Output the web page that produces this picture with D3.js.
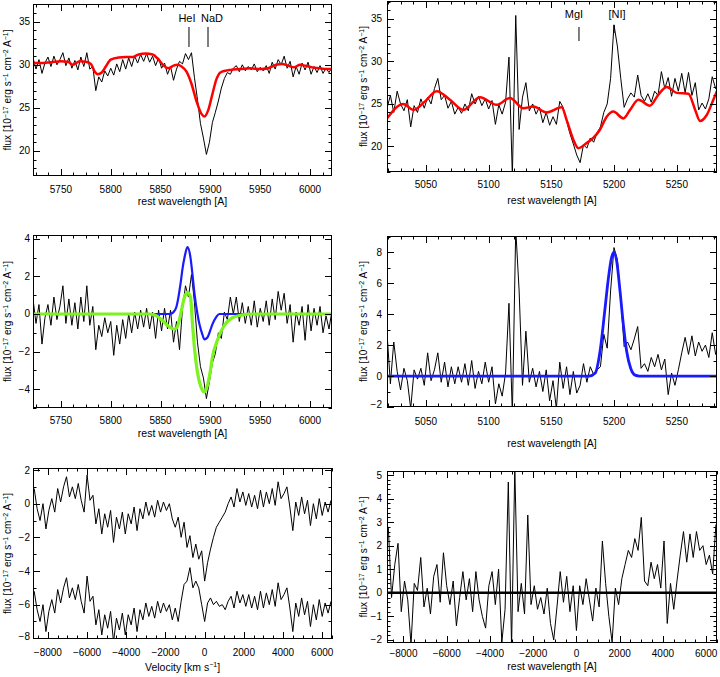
<!DOCTYPE html>
<html><head><meta charset="utf-8">
<script src="https://cdn.jsdelivr.net/npm/d3@7"></script>
<style>
body{margin:0;background:#fff}
svg{display:block;background:#fff}
text{font-family:"Liberation Sans",Arial,Helvetica,sans-serif;font-size:10px;fill:#000}
</style>
</head><body>
<svg id="c" width="720" height="677"></svg>
<script>
// ---------------- DATA ----------------
// Panel 1: NaD region, observed spectrum (3 A sampling from 5722 A) and stellar model (red)
const p1WaveStart = 5722, p1WaveStep = 3;
const p1Flux = [
 30.8,29.5,30.6,29.0,30.2,30.9,29.8,31.0,30.0,30.6,
 31.4,29.9,30.8,29.6,30.5,29.4,30.9,29.8,31.4,29.5,
 29.8,27.0,28.6,28.0,29.3,28.7,29.6,28.8,30.1,29.2,
 30.6,29.5,30.8,29.8,31.0,30.2,31.2,30.4,31.3,30.3,
 31.0,29.9,30.8,29.6,30.2,28.9,29.8,28.2,29.5,30.4,
 30.1,31.3,30.6,31.4,28.5,26.0,23.2,21.5,19.6,21.0,
 23.3,24.5,25.8,27.3,28.4,29.1,28.9,29.6,29.9,29.2,
 30.0,29.3,29.8,29.4,30.1,29.2,29.7,29.3,29.9,29.0,
 30.3,29.5,30.6,30.0,31.0,29.6,30.4,28.6,29.8,28.9,
 30.2,29.4,30.3,28.9,29.8,29.1,29.9,29.0,29.6,29.1,
 29.7];
const p1ModelWave = [5722,5730,5740,5750,5757,5762,5769,5775,5780,5784,5787,5791,5795,5800,5808,5815,5822,5828,5835,5842,5848,5853,5858,5863,5867,5871,5876,5881,5886,5891,5894,5898,5902,5906,5910,5915,5920,5930,5940,5950,5958,5966,5972,5978,5984,5990,5995,6002,6010,6016,6022];
const p1ModelFlux = [30.2,30.2,30.3,30.4,30.35,30.0,30.4,30.35,30.1,29.2,28.9,29.1,29.8,30.6,30.85,30.9,30.9,31.2,31.3,31.2,30.6,29.9,29.6,29.9,30.0,29.8,29.2,27.8,25.8,24.3,24.0,24.8,26.6,28.3,29.1,29.3,29.4,29.5,29.6,29.5,29.6,30.0,30.1,29.9,29.7,30.0,29.9,29.7,29.6,29.5,29.5];
const p1LineNames = ["HeI","NaD"];
const p1LineWaves = [5878.5,5897.6];

// Panel 2: [NI] region, observed spectrum (2.7 A sampling from 5019 A) and stellar model (red)
const p2WaveStart = 5019, p2WaveStep = 2.7;
const p2Flux = [
 24.5,26.0,24.0,26.5,25.0,24.2,25.5,22.3,24.8,24.0,
 25.6,24.5,25.8,25.0,26.8,28.0,25.5,26.0,24.5,25.3,
 23.8,24.6,23.9,25.0,24.2,26.2,25.0,25.9,24.8,25.6,
 24.4,25.4,22.6,24.9,23.8,25.2,30.5,16.5,35.4,22.0,
 25.8,27.5,24.2,25.0,23.8,24.6,22.8,24.0,22.5,23.5,
 22.6,25.3,24.6,23.0,21.5,20.3,19.0,18.1,20.2,19.8,
 21.0,20.5,21.6,22.3,24.0,25.0,28.0,34.3,31.8,28.0,
 24.6,25.6,26.3,25.8,28.4,26.0,25.3,26.2,25.2,26.5,
 26.0,28.8,26.8,28.1,25.9,28.0,26.5,28.6,26.3,28.7,
 26.0,27.5,24.3,25.1,24.4,25.6,28.2,26.8,27.9];
const p2ModelWave = [5019.3,5032.0,5040.0,5049.3,5058.6,5069.2,5079.8,5093.1,5106.4,5117.0,5127.7,5135.6,5146.3,5158.2,5162.2,5167.5,5171.5,5178.1,5183.4,5188.8,5194.1,5199.4,5207.4,5212.7,5219.3,5228.6,5235.3,5241.9,5249.9,5259.2,5264.6,5268.5,5273.8,5279.1,5283.1];
const p2ModelFlux = [23.35,25.0,24.3,25.3,26.5,25.5,24.3,25.8,24.9,25.7,24.5,24.7,24.0,24.6,23.1,20.8,19.8,20.4,21.0,22.0,23.5,24.1,23.3,24.3,25.5,24.8,26.1,27.0,26.3,26.2,24.3,23.0,23.7,25.5,26.9];
const p2LineNames = ["MgI","[NI]"];
const p2LineWaves = [5172,5200];

// Panel 3: residual around NaD, HeI emission fit (blue) and total fit (green)
const p3Flux = [
 0.8,-0.5,0.5,-1.6,-0.2,0.5,-0.6,0.9,-0.3,0.4,
 1.5,-0.5,0.8,-0.6,0.6,-0.8,0.9,-0.4,1.5,-0.6,
 0.4,-1.9,-0.6,-1.2,-0.2,-1.0,-0.4,-2.2,-0.6,-1.6,
 -0.3,-1.3,0.0,-1.0,0.1,-0.8,0.2,-0.7,0.3,-0.8,
 0.1,-1.3,0.2,-0.9,0.3,-0.8,0.2,-1.5,-0.4,-1.9,
 0.3,1.5,0.9,2.1,0.6,-1.5,-2.8,-3.4,-4.5,-3.6,
 -2.6,-2.1,-1.0,-1.3,0.1,-0.3,0.9,0.0,0.9,-0.4,
 0.6,-0.5,0.4,-0.6,0.7,-0.7,0.3,-0.4,0.7,-0.6,
 0.8,-0.3,1.2,0.2,1.1,-0.5,0.5,-1.5,0.1,-0.6,
 0.4,-1.4,0.5,-0.9,0.3,-0.6,0.4,-1.0,-0.1,-0.8,
 0.2];
const p3BlueWave = [5722,5859,5863,5866,5870,5872,5874,5877,5880,5882,5884,5887,5889,5892,5894,5897,5900,5902,5906,5909,6022];
const p3BlueFlux = [0,0,0.1,0.4,1.6,2.4,3.0,3.55,3.0,2.1,1.1,0.0,-0.55,-1.1,-1.35,-1.25,-0.85,-0.55,-0.15,0,0];
const p3GreenWave = [5722,5840,5846,5852,5858,5863,5866,5868,5871,5874,5877,5880,5882,5884,5887,5890,5894,5897,5900,5902,5907,5914,5922,5932,5942,6022];
const p3GreenFlux = [0,0,-0.1,-0.35,-0.65,-0.8,-0.75,-0.5,0.2,0.9,1.15,0.9,-0.5,-1.8,-3.1,-3.8,-4.15,-3.8,-3.0,-2.3,-1.4,-0.6,-0.2,-0.05,0,0];

// Panel 4: residual around [NI] with Gaussian fit (blue)
const p4Flux = [
 2.8,-0.5,2.2,0.3,-0.9,0.5,-0.3,-2.1,0.4,-0.2,
 0.5,-0.6,1.5,-0.3,0.4,1.5,-0.4,0.9,-0.7,0.6,
 -0.5,0.6,-0.4,0.8,-0.6,1.0,-0.8,0.3,-0.5,0.9,
 -0.4,0.6,-1.8,-0.5,-1.3,0.2,4.7,-2.5,9.5,5.5,
 -0.6,2.9,-0.4,0.5,-0.7,0.3,-1.0,0.4,-1.6,-0.3,
 -2.1,0.9,-0.8,0.6,-1.2,0.3,-1.1,-0.6,0.8,-0.4,
 0.6,0.1,0.4,0.6,2.7,1.8,5.5,8.3,7.5,5.0,
 1.9,2.2,1.7,2.4,3.2,0.5,0.8,0.3,1.2,0.6,
 1.4,0.4,1.1,-1.2,0.2,-0.6,0.4,1.5,2.5,1.4,
 2.6,1.3,2.2,1.6,2.0,1.2,2.8,1.4,1.8];
const p4FitWave = [5019,5180,5185,5188.8,5192.8,5195.4,5198.1,5200,5202.1,5204.7,5207.4,5210,5213.2,5216.7,5220,5283];
const p4FitFlux = [0,0,0.2,1.6,4.4,6.3,7.7,8.0,7.4,5.5,3.3,1.6,0.5,0.06,0,0];

// Panel 5: NaD residual in velocity space (top) and after fit subtraction, offset (bottom)
const velStart = -8700, velStep = 150;
const p5Top = [
 0.9,-0.3,-1.0,0.0,-1.5,-0.4,0.3,-0.5,0.9,0.1,
 1.0,1.6,0.4,1.0,0.3,1.2,0.2,-0.5,1.7,0.2,
 0.5,-1.2,-0.3,-1.8,-0.6,-1.4,-0.4,-2.3,-0.8,-1.5,
 -0.5,-1.8,-0.6,-1.2,-0.2,-1.6,-0.3,-0.9,0.1,-0.7,
 -0.1,-0.8,0.2,-0.5,0.1,-0.4,0.0,-0.9,-1.4,-0.8,
 -2.0,-1.1,-2.6,-1.9,-3.2,-2.4,-3.3,-2.8,-4.6,-3.5,
 -2.7,-2.0,-1.4,-1.1,-0.8,-0.5,0.0,0.4,-0.2,0.9,
 0.1,0.7,-0.1,0.6,-0.2,0.5,-0.3,0.8,-0.2,0.7,
 0.0,0.9,-0.1,1.3,0.3,0.6,1.0,-0.2,-1.6,0.1,
 -0.7,0.4,-0.6,0.2,-1.3,0.0,-0.9,0.3,-0.7,0.1,
 -0.5,0.2];
const p5Bottom = [
 -5.2,-6.3,-7.0,-6.0,-7.6,-6.4,-5.7,-6.5,-5.1,-5.9,
 -5.0,-4.4,-5.6,-5.0,-5.7,-4.8,-5.8,-6.5,-4.3,-5.8,
 -5.5,-7.2,-6.3,-7.8,-6.6,-7.4,-6.4,-8.2,-6.8,-7.5,
 -6.5,-7.8,-6.6,-7.2,-6.2,-7.6,-6.3,-6.9,-5.9,-6.7,
 -6.1,-6.8,-5.8,-6.5,-5.9,-6.4,-6.0,-6.9,-6.2,-7.0,
 -5.8,-4.8,-4.6,-3.8,-5.0,-4.6,-5.0,-6.0,-7.0,-5.9,
 -5.6,-6.0,-5.8,-6.1,-6.0,-6.3,-5.8,-5.5,-6.2,-5.2,
 -5.9,-5.4,-6.1,-5.4,-6.2,-5.5,-6.3,-5.2,-6.2,-5.3,
 -6.0,-5.1,-6.1,-4.7,-5.7,-5.4,-5.0,-6.2,-7.6,-5.9,
 -6.7,-5.6,-6.6,-5.8,-7.3,-6.0,-6.9,-5.7,-6.7,-5.9,
 -6.5,-5.8];

// Panel 6: [NI] residual after Gaussian subtraction
const p6Flux = [
 2.8,-0.2,1.2,2.1,-0.8,0.5,-0.3,-2.2,0.4,0.1,
 1.5,-0.6,0.2,-0.9,0.7,1.2,-0.4,1.7,0.3,-0.5,
 0.5,-1.4,-0.2,0.9,-0.3,0.6,-0.8,0.9,-0.3,-1.0,
 -1.5,0.3,0.9,-0.5,1.0,-2.1,-0.7,4.7,-2.3,5.3,
 -0.8,0.4,-0.9,3.3,-0.5,0.3,-0.7,-0.2,-0.9,0.2,
 -1.3,-2.0,-0.6,0.9,-0.4,0.7,-0.8,0.3,-1.6,0.3,
 -0.5,0.6,-0.3,-1.2,0.2,-0.6,2.2,0.4,-1.0,-2.1,
 0.2,-0.5,0.6,1.2,1.8,1.5,2.3,1.8,3.2,0.5,
 0.3,1.3,0.6,1.2,0.2,2.2,-1.3,0.4,-0.7,0.5,
 1.6,2.6,1.3,2.5,1.5,2.6,1.8,2.0,1.2,1.6,
 0.8,2.9];
const p6ZeroVel = [-8760,6500];
const p6ZeroFlux = [0,0];

// Tick values
const ticksNaD = [5750,5800,5850,5900,5950,6000];
const ticksNI = [5050,5100,5150,5200,5250];
const ticksVel = [-8000,-6000,-4000,-2000,0,2000,4000,6000];
const ticksY1 = [20,25,30,35];
const ticksY3 = [-4,-2,0,2,4];
const ticksY4 = [-2,0,2,4,6,8];
const ticksY5 = [-8,-6,-4,-2,0,2];
const ticksY6 = [-2,-1,0,1,2,3,4,5];

// ---------------- DRAWING ----------------
const grid = (start, step, n) => d3.range(n).map(i => start + i * step);
const p1Wave = grid(p1WaveStart, p1WaveStep, p1Flux.length);
const p2Wave = grid(p2WaveStart, p2WaveStep, p2Flux.length);
const p3Wave = grid(p1WaveStart, p1WaveStep, p3Flux.length);
const p4Wave = grid(p2WaveStart, p2WaveStep, p4Flux.length);
const p5Vel = grid(velStart, velStep, p5Top.length);
const p6Vel = grid(velStart, velStep, p6Flux.length);

const fluxTitle = [["flux [10",0],["\u221217",1],[" erg s",0],["\u22121",1],[" cm",0],["\u22122",1],[" A",0],["\u22121",1],["]",0]];
const waveTitle = [["rest wavelength [A]",0]];
const velTitle = [["Velocity [km s",0],["\u22121",1],["]",0]];

const smooth = d3.curveMonotoneX;
const panels = [
 {box:[33,332,4,176], xd:[5722,6022], yd:[17.1,37.05], xt:ticksNaD, yt:ticksY1, xm:12.5, ym:1,
  xlabY:192.5, xtitleY:205, xtitle:waveTitle, ylabX:30, ytitleX:11,
  series:[{x:p1Wave,y:p1Flux,c:"#000",w:1},{x:p1ModelWave,y:p1ModelFlux,c:"#ff0000",w:2.5,curve:smooth}],
  ann:{names:p1LineNames,waves:p1LineWaves,dx:[-2,4],textY:21.5,l0:[27,27],l1:[47,47]}},
 {box:[387,717,1,172], xd:[5019,5282], yd:[17.0,37.1], xt:ticksNI, yt:ticksY1, xm:10, ym:1,
  xlabY:188, xtitleY:203.5, xtitle:waveTitle, ylabX:382, ytitleX:367,
  series:[{x:p2Wave,y:p2Flux,c:"#000",w:1},{x:p2ModelWave,y:p2ModelFlux,c:"#ff0000",w:2.5,curve:smooth}],
  ann:{names:p2LineNames,waves:p2LineWaves,dx:[-5,3],textY:17.5,l0:[27,25],l1:[41,33]}},
 {box:[33,332,235,408], xd:[5722,6022], yd:[-5.0,4.2], xt:ticksNaD, yt:ticksY3, xm:12.5, ym:1,
  xlabY:424, xtitleY:436.5, xtitle:waveTitle, ylabX:30, ytitleX:11,
  series:[{x:p3Wave,y:p3Flux,c:"#000",w:1},{x:p3BlueWave,y:p3BlueFlux,c:"#1a1aff",w:2.2,curve:smooth},{x:p3GreenWave,y:p3GreenFlux,c:"#7cf21e",w:3.2,curve:smooth}]},
 {box:[387,717,236,407], xd:[5019,5282], yd:[-2.0,9.05], xt:ticksNI, yt:ticksY4, xm:10, ym:1,
  xlabY:425, xtitleY:446.5, xtitle:waveTitle, ylabX:382, ytitleX:367,
  series:[{x:p4Wave,y:p4Flux,c:"#000",w:1},{x:p4FitWave,y:p4FitFlux,c:"#1a1aff",w:2.8,curve:smooth}]},
 {box:[33,332,468,639], xd:[-8760,6500], yd:[-8.04,2.12], xt:ticksVel, yt:ticksY5, xm:500, ym:1,
  xlabY:655.5, xtitleY:670.5, xtitle:velTitle, ylabX:30, ytitleX:11,
  series:[{x:p5Vel,y:p5Top,c:"#000",w:1},{x:p5Vel,y:p5Bottom,c:"#000",w:1}]},
 {box:[387,717,471,643], xd:[-8760,6500], yd:[-2.13,5.17], xt:ticksVel, yt:ticksY6, xm:500, ym:0.2,
  xlabY:656.5, xtitleY:670, xtitle:waveTitle, ylabX:382, ytitleX:367,
  series:[{x:p6Vel,y:p6Flux,c:"#000",w:1},{x:p6ZeroVel,y:p6ZeroFlux,c:"#000",w:2.4}]}
];

const svg = d3.select("#c");
const fmt = d3.format("d");

function rich(g, x, y, parts, rotate) {
  const t = g.append("text").attr("x", x).attr("y", y).attr("text-anchor", "middle");
  if (rotate) t.attr("transform", `rotate(-90,${x},${y})`);
  let sup = false;
  parts.forEach(([s, isSup]) => {
    const ts = t.append("tspan").text(s);
    if (isSup && !sup) { ts.attr("dy", -3.5).style("font-size", "7px"); sup = true; }
    else if (isSup) { ts.style("font-size", "7px"); }
    else if (sup) { ts.attr("dy", 3.5); sup = false; }
  });
  return t;
}

function minorVals(dom, step, majors) {
  const out = [];
  const lo = Math.min(dom[0], dom[1]), hi = Math.max(dom[0], dom[1]);
  for (let v = Math.ceil(lo / step) * step; v <= hi + 1e-9; v += step) {
    if (!majors.some(m => Math.abs(m - v) < step * 0.01)) out.push(v);
  }
  return out;
}

panels.forEach((p, k) => {
  const [x0, x1, y0, y1] = p.box;
  const x = d3.scaleLinear().domain(p.xd).range([x0, x1]);
  const y = d3.scaleLinear().domain(p.yd).range([y1, y0]);
  const g = svg.append("g");
  const cid = "clip" + k;
  svg.append("clipPath").attr("id", cid).append("rect")
    .attr("x", x0).attr("y", y0).attr("width", x1 - x0).attr("height", y1 - y0);
  const dg = g.append("g").attr("clip-path", `url(#${cid})`);
  p.series.forEach(s => {
    const pts = s.x.map((xv, i) => [xv, s.y[i]]);
    dg.append("path")
      .attr("d", d3.line().x(d => x(d[0])).y(d => y(d[1])).curve(s.curve || d3.curveLinear)(pts))
      .attr("fill", "none").attr("stroke", s.c).attr("stroke-width", s.w)
      .attr("stroke-linejoin", "round").attr("stroke-linecap", "butt");
  });

  // frame
  g.append("rect").attr("x", x0 + 0.5).attr("y", y0 + 0.5)
    .attr("width", x1 - x0 - 1).attr("height", y1 - y0 - 1)
    .attr("fill", "none").attr("stroke", "#000").attr("stroke-width", 1);

  // ticks
  let d = "";
  const TL = 7, tl = 3.5;
  const xMaj = p.xt.filter(t => t >= Math.min(...p.xd) && t <= Math.max(...p.xd));
  xMaj.forEach(t => { const px = Math.round(x(t)) + 0.5; d += `M${px},${y1}v${-TL}M${px},${y0}v${TL}`; });
  minorVals(p.xd, p.xm, p.xt).forEach(t => { const px = Math.round(x(t)) + 0.5; d += `M${px},${y1}v${-tl}M${px},${y0}v${tl}`; });
  p.yt.forEach(t => { const py = Math.round(y(t)) + 0.5; d += `M${x0},${py}h${TL}M${x1},${py}h${-TL}`; });
  minorVals(p.yd, p.ym, p.yt).forEach(t => { const py = Math.round(y(t)) + 0.5; d += `M${x0},${py}h${tl}M${x1},${py}h${-tl}`; });
  g.append("path").attr("d", d).attr("stroke", "#000").attr("stroke-width", 1).attr("fill", "none");

  // tick labels
  xMaj.forEach(t => g.append("text").attr("x", x(t)).attr("y", p.xlabY).attr("text-anchor", "middle").text(fmt(t)));
  p.yt.forEach(t => g.append("text").attr("x", p.ylabX).attr("y", Math.min(y(t), y1 - 3)).attr("dy", "0.35em").attr("text-anchor", "end").text(fmt(t)));

  // axis titles
  rich(g, (x0 + x1) / 2, p.xtitleY, p.xtitle, false).style("font-size", "10.5px");
  rich(g, p.ytitleX, (y0 + y1) / 2, fluxTitle, true);

  // line identifications
  if (p.ann) {
    p.ann.names.forEach((nm, i) => {
      const px = x(p.ann.waves[i]);
      g.append("text").attr("x", px + p.ann.dx[i]).attr("y", p.ann.textY).attr("text-anchor", "middle").style("font-size", "11px").text(nm);
      g.append("line").attr("x1", px).attr("x2", px).attr("y1", p.ann.l0[i]).attr("y2", p.ann.l1[i]).attr("stroke", "#000").attr("stroke-width", 1);
    });
  }
});
</script>
</body></html>
